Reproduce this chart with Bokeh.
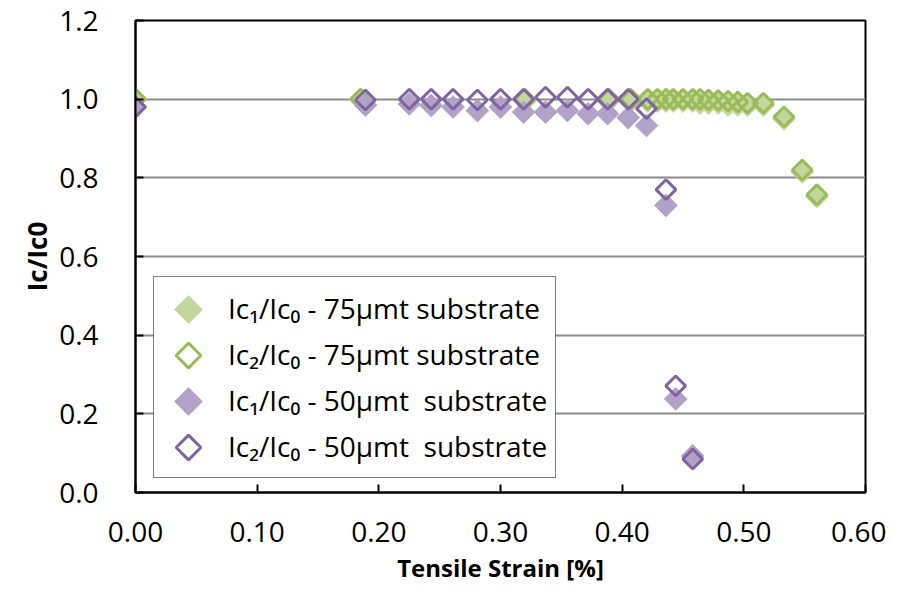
import math
from bokeh.plotting import figure
from bokeh.models import (Range1d, NumeralTickFormatter, FixedTicker, Legend,
                          LegendItem)
from bokeh.embed import file_html
from bokeh.resources import INLINE

# ---- data ----
strain_75 = [0.0, 0.185, 0.320, 0.389, 0.407, 0.421, 0.429, 0.436, 0.442, 0.450,
             0.458, 0.464, 0.471, 0.479, 0.487, 0.495, 0.503, 0.516, 0.533, 0.548, 0.560]
ic1_75 = [1.000, 1.000, 0.995, 0.995, 0.995, 0.995, 0.995, 0.995, 0.995, 0.995,
          0.995, 0.990, 0.990, 0.990, 0.985, 0.985, 0.985, 0.985, 0.950, 0.815, 0.752]
ic2_75 = [1.000, 1.000, 1.000, 1.000, 1.000, 1.000, 1.000, 1.000, 1.000, 1.000,
          1.000, 1.000, 0.998, 0.997, 0.995, 0.993, 0.990, 0.990, 0.955, 0.820, 0.757]

strain_50 = [0.0, 0.189, 0.225, 0.243, 0.261, 0.281, 0.300, 0.319, 0.337, 0.355,
             0.372, 0.388, 0.405, 0.420, 0.436, 0.444, 0.458]
ic1_50 = [0.980, 0.985, 0.988, 0.984, 0.980, 0.971, 0.980, 0.967, 0.967, 0.971,
          0.963, 0.963, 0.953, 0.933, 0.730, 0.238, 0.093]
ic2_50 = [0.980, 0.998, 1.000, 1.000, 1.000, 0.998, 1.000, 1.000, 1.005, 1.005,
          1.000, 1.000, 1.000, 0.976, 0.770, 0.271, 0.085]

x_ticks = [0.0, 0.1, 0.2, 0.3, 0.4, 0.5, 0.6]
y_ticks = [0.0, 0.2, 0.4, 0.6, 0.8, 1.0, 1.2]

labels = ["Ic\u2081/Ic\u2080 - 75\u00b5mt substrate",
          "Ic\u2082/Ic\u2080 - 75\u00b5mt substrate",
          "Ic\u2081/Ic\u2080 - 50\u00b5mt  substrate",
          "Ic\u2082/Ic\u2080 - 50\u00b5mt  substrate"]

GREEN_FILL = "#C3D69B"
GREEN_LINE = "#9BBB59"
PURPLE_FILL = "#B3A2C7"
PURPLE_LINE = "#8064A2"
FONT = "Open Sans"

X0, X1, Y0, Y1 = 0.0, 0.6, 0.0, 1.2
FW, FH = 730, 472

p = figure(frame_width=FW, frame_height=FH,
           x_range=Range1d(X0, X1), y_range=Range1d(Y0, Y1),
           output_backend="svg", toolbar_location=None,
           min_border_left=135, min_border_right=21,
           min_border_top=20, min_border_bottom=88,
           background_fill_color="white", border_fill_color="white")

ang = math.pi / 4
r1 = p.scatter(strain_75, ic1_75, marker="square", angle=ang, size=16,
               fill_color=GREEN_FILL, line_color=GREEN_FILL, line_width=1)
r2 = p.scatter(strain_75, ic2_75, marker="square", angle=ang, size=14,
               fill_color=None, line_color=GREEN_LINE, line_width=3)
r3 = p.scatter(strain_50, ic1_50, marker="square", angle=ang, size=16,
               fill_color=PURPLE_FILL, line_color=PURPLE_FILL, line_width=1)
r4 = p.scatter(strain_50, ic2_50, marker="square", angle=ang, size=14,
               fill_color=None, line_color=PURPLE_LINE, line_width=3)

# ---- legend: Bokeh legend (labels + border), diamond keys drawn beneath it ----
LEG_X, LEG_Y = 18, 14          # offset of legend from frame bottom-left (screen px)
LEG_W = 402                    # approx. rendered legend width (px)
LEG_PAD, GLYPH_W, ROW_H = 8, 54, 46
leg_h = 2 * LEG_PAD + 4 * ROW_H
kx = (X1 - X0) / FW
ky = (Y1 - Y0) / FH

# white backing that hides the grid lines behind the legend
p.quad(left=[X0 + kx * LEG_X], right=[X0 + kx * (LEG_X + LEG_W)],
       bottom=[Y0 + ky * LEG_Y], top=[Y0 + ky * (LEG_Y + leg_h)],
       fill_color="white", line_color=None)

cx = X0 + kx * (LEG_X + LEG_PAD + GLYPH_W / 2)
key_styles = [dict(fill_color=GREEN_FILL, line_color=GREEN_FILL, line_width=1, size=19.5),
              dict(fill_color=None, line_color=GREEN_LINE, line_width=3, size=17.5),
              dict(fill_color=PURPLE_FILL, line_color=PURPLE_FILL, line_width=1, size=19.5),
              dict(fill_color=None, line_color=PURPLE_LINE, line_width=3, size=17.5)]
keys = []
for i, st in enumerate(key_styles):
    cy = Y0 + ky * (LEG_Y + leg_h - LEG_PAD - ROW_H * (i + 0.5))
    keys.append(p.scatter([cx], [cy], marker="square", angle=ang, **st))

# invisible proxies carry the legend entries
proxies = [p.scatter(strain_75, ic1_75, fill_alpha=0, line_alpha=0),
           p.scatter(strain_75, ic2_75, fill_alpha=0, line_alpha=0),
           p.scatter(strain_50, ic1_50, fill_alpha=0, line_alpha=0),
           p.scatter(strain_50, ic2_50, fill_alpha=0, line_alpha=0)]

legend = Legend(items=[LegendItem(label=lab, renderers=[pr]) for lab, pr in zip(labels, proxies)],
                location=(LEG_X, LEG_Y), border_line_color="black", border_line_width=1.5,
                padding=LEG_PAD, spacing=0, glyph_width=GLYPH_W, glyph_height=ROW_H,
                label_standoff=12, label_text_font=FONT, label_text_font_size="28px",
                label_text_color="black", margin=0, background_fill_alpha=0.0)
p.add_layout(legend)

# axes
p.xaxis.ticker = FixedTicker(ticks=x_ticks)
p.yaxis.ticker = FixedTicker(ticks=y_ticks)
p.xaxis.formatter = NumeralTickFormatter(format="0.00")
p.yaxis.formatter = NumeralTickFormatter(format="0.0")
for ax in (p.xaxis, p.yaxis):
    ax.major_tick_in = 8
    ax.major_tick_out = 0
    ax.minor_tick_in = 0
    ax.minor_tick_out = 0
    ax.major_tick_line_color = "black"
    ax.major_tick_line_width = 2
    ax.axis_line_color = "black"
    ax.axis_line_width = 2
    ax.major_label_text_font = FONT
    ax.major_label_text_font_size = "28px"
    ax.major_label_text_color = "black"
    ax.axis_label_text_font = FONT
    ax.axis_label_text_font_style = "bold"
    ax.axis_label_text_color = "black"
p.xaxis.major_label_standoff = 29
p.yaxis.major_label_standoff = 37
p.xaxis.axis_label = "Tensile Strain [%]"
p.yaxis.axis_label = "Ic/Ic0"
p.xaxis.axis_label_text_font_size = "24px"
p.yaxis.axis_label_text_font_size = "26px"
p.xaxis.axis_label_standoff = 6
p.yaxis.axis_label_standoff = 1

p.xgrid.grid_line_color = None
p.ygrid.ticker = FixedTicker(ticks=y_ticks)
p.ygrid.grid_line_color = "#8c8c8c"
p.ygrid.grid_line_width = 2

p.outline_line_color = "black"
p.outline_line_width = 2
p.outline_line_alpha = 1.0

open("out.html", "w").write(file_html(p, INLINE))
